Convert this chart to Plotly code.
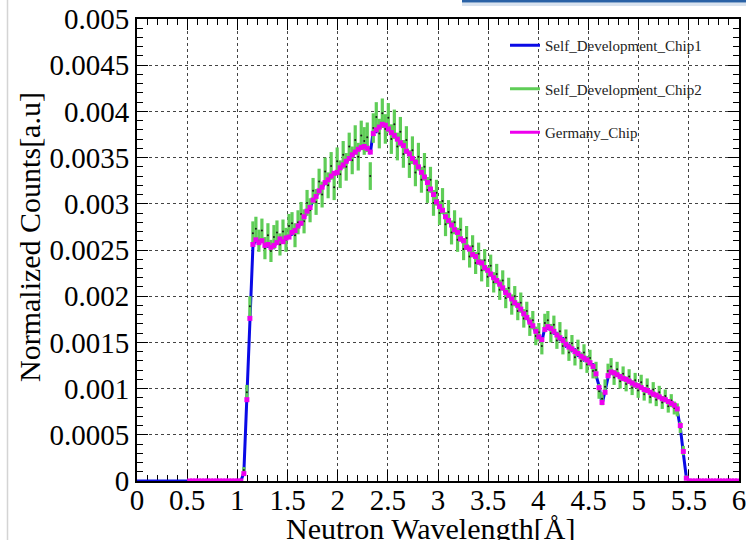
import numpy as np
import plotly.graph_objects as go

# Histogram binning (Angstrom)
BIN_WIDTH = 0.03
FIRST_FILLED_CENTER = 1.065

# Normalized counts in units of 1e-4, one value per 0.03 A bin starting at 1.065 A
germany_chip = [
    0.8, 8.8, 17.6, 25.6, 26.1, 25.8, 26.0, 25.5, 25.6, 25.3,
    25.5, 25.8, 26.2, 25.9, 26.3, 26.4, 26.9, 27.1, 27.6, 27.9,
    28.6, 29.2, 29.6, 30.4, 30.8, 31.4, 31.8, 32.3, 32.6, 33.0,
    33.3, 33.4, 33.9, 34.2, 34.6, 34.9, 35.3, 35.6, 35.9, 36.1,
    36.2, 36.0, 35.6, 37.6, 38.0, 38.3, 38.6, 38.5, 38.1, 37.7,
    37.4, 37.0, 36.6, 36.3, 35.7, 35.4, 34.9, 34.5, 34.0, 33.4,
    32.9, 32.3, 31.6, 31.0, 30.2, 29.7, 29.3, 28.6, 28.2, 27.7,
    27.2, 26.9, 26.2, 26.0, 25.3, 25.1, 24.5, 24.3, 23.7, 23.6,
    23.1, 22.8, 22.4, 22.0, 21.7, 21.3, 20.9, 20.4, 20.1, 19.7,
    19.3, 19.0, 18.6, 18.1, 17.7, 17.2, 16.8, 16.2, 15.6, 15.3,
    16.4, 16.7, 16.5, 16.2, 15.8, 15.5, 15.2, 14.8, 14.5, 14.3,
    14.0, 13.8, 13.5, 13.3, 13.1, 12.8, 12.4, 11.6, 10.1, 8.5,
    9.6, 11.4, 11.8, 11.7, 11.5, 11.3, 11.1, 11.0, 10.8, 10.6,
    10.4, 10.3, 10.1, 9.9, 9.8, 9.6, 9.4, 9.3, 9.1, 8.9,
    8.8, 8.6, 8.4, 8.2, 7.8, 6.0, 3.2, 0.3,
]

self_dev_chip1 = [
    0.9, 9.3, 18.2, 25.3, 26.3, 25.6, 26.2, 25.7, 25.4, 25.5,
    25.3, 26.0, 26.0, 26.1, 26.1, 26.6, 26.7, 27.3, 27.4, 28.1,
    28.4, 29.3, 29.5, 30.5, 30.7, 31.5, 31.7, 32.4, 32.5, 33.1,
    33.1, 33.6, 33.7, 34.4, 34.4, 35.1, 35.1, 35.8, 35.7, 36.3,
    36.0, 36.2, 35.4, 37.9, 37.8, 38.6, 38.9, 38.3, 38.3, 37.5,
    37.6, 36.8, 36.8, 36.1, 35.9, 35.2, 35.1, 34.3, 34.2, 33.2,
    33.1, 32.1, 31.8, 30.8, 30.4, 29.5, 29.5, 28.4, 28.4, 27.5,
    27.4, 26.6, 26.5, 25.7, 25.6, 24.8, 24.8, 24.0, 24.0, 23.3,
    23.3, 22.6, 22.6, 21.8, 21.9, 21.1, 21.1, 20.2, 20.3, 19.5,
    19.5, 18.8, 18.8, 17.9, 17.9, 17.0, 17.0, 16.0, 15.8, 15.1,
    16.6, 16.5, 16.7, 16.0, 16.0, 15.3, 15.4, 14.6, 14.7, 14.1,
    14.2, 13.6, 13.7, 13.1, 13.3, 12.6, 12.6, 11.4, 10.3, 8.3,
    9.8, 11.2, 12.0, 11.5, 11.7, 11.1, 11.3, 10.8, 11.0, 10.4,
    10.6, 10.1, 10.3, 9.7, 10.0, 9.4, 9.6, 9.1, 9.3, 8.7,
    9.0, 8.4, 8.6, 8.0, 7.6, 5.8, 3.0, 0.4,
]

self_dev_chip2 = [
    1.2, 9.6, 18.9, 26.8, 27.3, 26.0, 27.1, 25.2, 26.6, 24.9,
    26.4, 26.9, 25.6, 27.0, 26.1, 27.6, 27.9, 26.6, 28.0, 28.9,
    28.1, 30.1, 29.3, 31.4, 30.2, 32.4, 31.0, 33.5, 32.0, 34.1,
    31.8, 34.6, 33.2, 35.3, 34.0, 36.2, 34.7, 36.9, 35.1, 37.4,
    36.8, 37.2, 33.0, 38.2, 39.4, 37.6, 39.8, 38.1, 39.3, 37.0,
    38.6, 36.2, 37.8, 35.4, 36.9, 34.3, 35.8, 33.4, 35.1, 32.6,
    34.0, 31.5, 32.6, 30.1, 31.2, 29.0, 30.3, 27.8, 29.1, 26.9,
    28.0, 26.1, 27.2, 25.1, 26.3, 24.3, 25.4, 23.6, 24.6, 22.8,
    23.9, 22.1, 23.3, 21.5, 22.4, 20.7, 21.7, 19.8, 20.9, 19.1,
    20.0, 18.4, 19.3, 17.6, 18.4, 16.7, 17.4, 15.7, 16.1, 14.6,
    17.1, 17.4, 16.0, 16.9, 15.2, 16.2, 14.6, 15.5, 13.9, 14.9,
    13.4, 14.4, 13.0, 13.9, 12.6, 13.3, 11.9, 12.0, 9.7, 8.9,
    10.2, 11.9, 12.4, 11.2, 12.1, 10.8, 11.6, 10.5, 11.3, 10.1,
    10.9, 9.8, 10.7, 9.4, 10.3, 9.1, 9.9, 8.8, 9.6, 8.5,
    9.2, 8.1, 8.7, 7.9, 7.7, 5.8, 3.3, 0.4,
]

self_dev_chip2_err = [
    0.3, 0.8, 1.1, 1.3, 1.3, 1.2, 1.3, 1.2, 1.3, 1.2,
    1.3, 1.3, 1.2, 1.3, 1.3, 1.3, 1.2, 1.3, 1.3, 1.3,
    1.3, 1.4, 1.3, 1.4, 1.4, 1.4, 1.4, 1.5, 1.4, 1.5,
    1.4, 1.5, 1.5, 1.5, 1.5, 1.5, 1.5, 1.6, 1.5, 1.6,
    1.5, 1.6, 1.5, 1.6, 1.6, 1.6, 1.6, 1.6, 1.6, 1.6,
    1.6, 1.5, 1.6, 1.5, 1.5, 1.5, 1.5, 1.5, 1.5, 1.4,
    1.5, 1.4, 1.4, 1.4, 1.4, 1.3, 1.4, 1.3, 1.3, 1.3,
    1.3, 1.3, 1.3, 1.2, 1.3, 1.2, 1.2, 1.2, 1.2, 1.2,
    1.2, 1.1, 1.2, 1.1, 1.1, 1.1, 1.1, 1.1, 1.1, 1.1,
    1.1, 1.0, 1.1, 1.0, 1.0, 1.0, 1.0, 1.0, 1.0, 0.9,
    1.0, 1.0, 1.0, 1.0, 0.9, 1.0, 0.9, 0.9, 0.9, 0.9,
    0.9, 0.9, 0.9, 0.9, 0.9, 0.9, 0.8, 0.9, 0.8, 0.7,
    0.8, 0.8, 0.9, 0.8, 0.8, 0.8, 0.8, 0.8, 0.8, 0.8,
    0.8, 0.8, 0.8, 0.7, 0.8, 0.7, 0.8, 0.7, 0.7, 0.7,
    0.7, 0.7, 0.7, 0.7, 0.7, 0.6, 0.5, 0.2,
]

# Empty bins below and above the filled band
chip1_empty_low = [0.0] * 35     # 0.015 .. 1.035 A
germany_empty_low = [0.0] * 18   # 0.525 .. 1.035 A
empty_high = [0.0] * 17          # 5.505 .. 5.985 A

x_tick_values = [0, 0.5, 1, 1.5, 2, 2.5, 3, 3.5, 4, 4.5, 5, 5.5, 6]
y_tick_values = [0, 0.0005, 0.001, 0.0015, 0.002, 0.0025, 0.003, 0.0035,
                 0.004, 0.0045, 0.005]
y_tick_text = ["0", "0.0005", "0.001", "0.0015", "0.002", "0.0025", "0.003",
               "0.0035", "0.004", "0.0045", "0.005"]

UNIT = 1e-4
n_filled = len(germany_chip)
filled_x = FIRST_FILLED_CENTER + BIN_WIDTH * np.arange(n_filled)
high_x = filled_x[-1] + BIN_WIDTH * np.arange(1, len(empty_high) + 1)
chip1_low_x = FIRST_FILLED_CENTER - BIN_WIDTH * np.arange(len(chip1_empty_low), 0, -1)
germany_low_x = FIRST_FILLED_CENTER - BIN_WIDTH * np.arange(len(germany_empty_low), 0, -1)

chip1_x = np.concatenate([[0.0], chip1_low_x, filled_x, high_x, [6.0]])
chip1_y = np.concatenate([[0.0], chip1_empty_low, np.array(self_dev_chip1) * UNIT,
                          empty_high, [0.0]])
germany_x = np.concatenate([germany_low_x, filled_x, high_x])
germany_y = np.concatenate([germany_empty_low, np.array(germany_chip) * UNIT, empty_high])
chip2_y = np.array(self_dev_chip2) * UNIT
chip2_e = np.array(self_dev_chip2_err) * UNIT

BLUE = "#0a0ae6"
GREEN = "#5fcd57"
MAGENTA = "#ee00ee"
SERIF = "Liberation Serif, Times New Roman, serif"

fig = go.Figure()

fig.add_trace(go.Scatter(
    x=chip1_x, y=chip1_y, mode="lines",
    line=dict(color=BLUE, width=3),
    name="Self_Development_Chip1", showlegend=False,
))
fig.add_trace(go.Scatter(
    x=filled_x, y=chip2_y, mode="markers",
    marker=dict(color="#1a1a1a", size=2),
    error_y=dict(type="data", array=chip2_e, color=GREEN, thickness=3.2, width=0),
    name="Self_Development_Chip2", showlegend=False,
))
fig.add_trace(go.Scatter(
    x=germany_x, y=germany_y, mode="markers",
    marker=dict(color=MAGENTA, size=5, symbol="square", line=dict(width=0)),
    name="Germany_Chip", showlegend=False,
))

# Legend entries drawn as line samples
for i, (label, color) in enumerate([("Self_Development_Chip1", BLUE),
                                    ("Self_Development_Chip2", GREEN),
                                    ("Germany_Chip", MAGENTA)]):
    fig.add_trace(go.Scatter(
        x=[None], y=[None], mode="lines", name=label,
        line=dict(color=color, width=3), legendgroup=f"g{i}",
    ))

axis_common = dict(
    showline=True, linecolor="black", linewidth=2, mirror="allticks",
    ticks="inside", tickcolor="black", tickwidth=1,
    showgrid=True, gridcolor="#444444", gridwidth=1, griddash="dot",
    zeroline=False, layer="below traces", ticklabeloverflow="allow",
    tickfont=dict(family=SERIF, size=29, color="black"),
)

fig.update_xaxes(
    range=[0, 6], tickvals=x_tick_values, ticklen=11, ticklabelstandoff=-8,
    minor=dict(dtick=0.1, tick0=0, ticks="inside", ticklen=6, tickcolor="black",
               showgrid=False),
    **axis_common,
)
fig.update_yaxes(
    range=[0, 0.005], tickvals=y_tick_values, ticktext=y_tick_text, ticklen=11,
    minor=dict(dtick=0.0001, tick0=0, ticks="inside", ticklen=6, tickcolor="black",
               showgrid=False),
    **axis_common,
)

PLOT_L, PLOT_T, PLOT_W, PLOT_H = 137, 19, 602, 462


def px_x(p):
    return (p - PLOT_L) / PLOT_W


def px_y(p):
    return (PLOT_T + PLOT_H - p) / PLOT_H


fig.update_layout(
    width=746, height=540,
    margin=dict(l=137, r=7, t=19, b=59, autoexpand=False),
    paper_bgcolor="white", plot_bgcolor="white",
    font=dict(family=SERIF, color="black"),
    legend=dict(
        x=px_x(505), y=px_y(29), xanchor="left", yanchor="top",
        font=dict(family=SERIF, size=15, color="#222222"),
        bgcolor="rgba(0,0,0,0)", borderwidth=0, tracegroupgap=21,
    ),
    annotations=[
        dict(text="Neutron Wavelength[Å]", xref="paper", yref="paper",
             x=px_x(430), y=px_y(528), xanchor="center", yanchor="middle",
             showarrow=False, font=dict(family=SERIF, size=30, color="black")),
        dict(text="Normalized Counts[a.u]", xref="paper", yref="paper",
             x=px_x(29), y=px_y(237), xanchor="center", yanchor="middle",
             textangle=-90, showarrow=False,
             font=dict(family=SERIF, size=30, color="black")),
    ],
    shapes=[
        # window edge and title bar strip around the figure
        dict(type="line", xref="paper", yref="paper",
             x0=px_x(7.5), x1=px_x(7.5), y0=px_y(0), y1=px_y(540),
             line=dict(color="#d4d4d4", width=1.5)),
        dict(type="rect", xref="paper", yref="paper",
             x0=px_x(462), x1=px_x(746), y0=px_y(0), y1=px_y(2.5),
             line=dict(width=0), fillcolor="#2a62a6"),
        dict(type="rect", xref="paper", yref="paper",
             x0=px_x(462), x1=px_x(746), y0=px_y(2.5), y1=px_y(6),
             line=dict(width=0), fillcolor="rgba(42,98,166,0.18)"),
    ],
)

fig.write_html("out.html")
